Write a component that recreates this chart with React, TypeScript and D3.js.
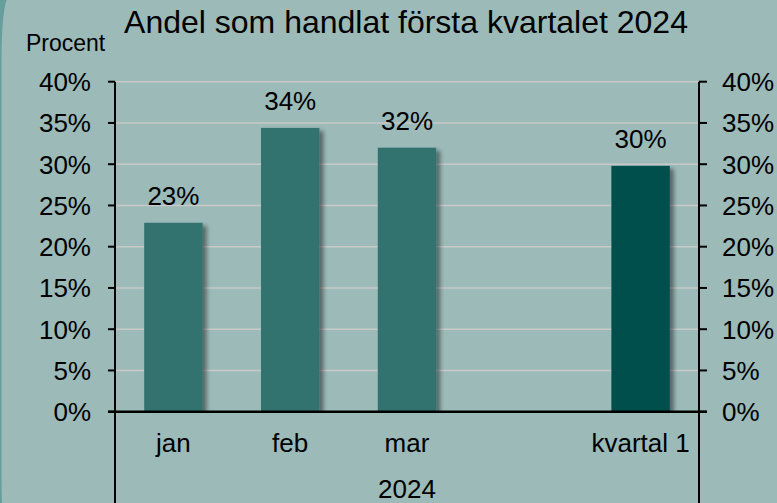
import React from "react";
import * as d3 from "d3";

const categories = ["jan", "feb", "mar", "", "kvartal 1"];
const values = [22.9, 34.4, 32.0, null, 29.8];
const valueLabels = ["23%", "34%", "32%", "", "30%"];
const yTicks = [0, 5, 10, 15, 20, 25, 30, 35, 40];
const title = "Andel som handlat första kvartalet 2024";
const yTitle = "Procent";
const groupLabel = "2024";

const W = 777;
const H = 503;
const M = { left: 115, right: 699, top: 81.7, bottom: 411.7 };
const font = "'Liberation Sans', Arial, sans-serif";

export default function App() {
  const x = d3
    .scaleBand<string>()
    .domain(categories.map((c, i) => String(i)))
    .range([M.left, M.right])
    .paddingInner(0.5)
    .paddingOuter(0.25);
  const y = d3.scaleLinear().domain([0, 40]).range([M.bottom, M.top]);

  return (
    <svg
      width={W}
      height={H}
      style={{ position: "absolute", left: 0, top: 0, display: "block" }}
      fontFamily={font}
    >
      <defs>
        <filter id="sh" x="-20%" y="-20%" width="150%" height="150%">
          <feDropShadow dx="4" dy="3" stdDeviation="2" floodColor="#000" floodOpacity="0.45" />
        </filter>
        <clipPath id="plotclip">
          <rect x={0} y={0} width={W} height={M.bottom} />
        </clipPath>
      </defs>
      <rect x={0} y={0} width={W} height={H} fill="#669e9c" />
      <rect x={1.5} y={-2} width={W + 40} height={H + 40} rx={7} ry={60} fill="#9bbab8" />

      {/* gridlines */}
      {yTicks.map((t) => (
        <line
          key={"g" + t}
          x1={M.left}
          x2={M.right}
          y1={y(t)}
          y2={y(t)}
          stroke="#c9c9c9"
          strokeWidth={1.6}
        />
      ))}

      {/* bars */}
      <g clipPath="url(#plotclip)">
        {values.map((v, i) =>
          v == null ? null : (
            <rect
              key={"b" + i}
              x={x(String(i))!}
              y={y(v)}
              width={x.bandwidth()}
              height={y(0) - y(v)}
              fill={i === 4 ? "#00504e" : "#317370"}
              filter="url(#sh)"
            />
          )
        )}
      </g>

      {/* value labels */}
      {values.map((v, i) =>
        v == null ? null : (
          <text
            key={"v" + i}
            x={x(String(i))! + x.bandwidth() / 2}
            y={y(v) - 18}
            textAnchor="middle"
            fontSize={26}
            fill="#000"
          >
            {valueLabels[i]}
          </text>
        )
      )}

      {/* axes */}
      <line x1={M.left} x2={M.left} y1={M.top} y2={H} stroke="#000" strokeWidth={2} />
      <line x1={M.right} x2={M.right} y1={M.top} y2={H} stroke="#000" strokeWidth={2} />
      <line x1={M.left - 7} x2={M.right + 8} y1={y(0)} y2={y(0)} stroke="#000" strokeWidth={2.5} />
      {yTicks.map((t) => (
        <g key={"t" + t}>
          <line x1={M.left - 7} x2={M.left} y1={y(t)} y2={y(t)} stroke="#000" strokeWidth={2} />
          <line x1={M.right} x2={M.right + 8} y1={y(t)} y2={y(t)} stroke="#000" strokeWidth={2} />
          <text x={91} y={y(t)} dy="0.36em" textAnchor="end" fontSize={26} fill="#000">
            {t + "%"}
          </text>
          <text x={722} y={y(t)} dy="0.36em" textAnchor="start" fontSize={26} fill="#000">
            {t + "%"}
          </text>
        </g>
      ))}

      {/* category labels */}
      {categories.map((c, i) => (
        <text
          key={"c" + i}
          x={x(String(i))! + x.bandwidth() / 2}
          y={452}
          textAnchor="middle"
          fontSize={26}
          fill="#000"
        >
          {c}
        </text>
      ))}
      <text x={(M.left + M.right) / 2} y={498} textAnchor="middle" fontSize={26} fill="#000">
        {groupLabel}
      </text>

      {/* titles */}
      <text x={406} y={33} textAnchor="middle" fontSize={32} fill="#000">
        {title}
      </text>
      <text x={26} y={51} textAnchor="start" fontSize={23} fill="#000">
        {yTitle}
      </text>
    </svg>
  );
}
